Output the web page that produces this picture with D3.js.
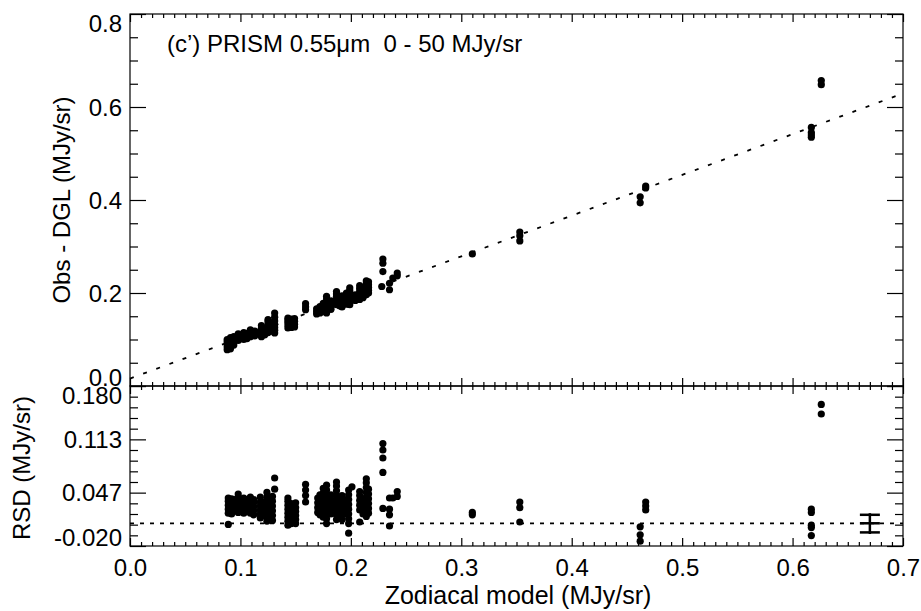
<!DOCTYPE html>
<html>
<head>
<meta charset="utf-8">
<script src="https://cdn.jsdelivr.net/npm/d3@7"></script>
<style>
  body { margin: 0; background: white; }
  text { font-family: "Liberation Sans", Arial, Helvetica, sans-serif; fill: black; }
</style>
</head>
<body>
<div id="container"></div>
<script>
let w = 921;
let h = 611;

// ---- data ----
// top panel: [zodiacal model, [obs - DGL values]]
let topCols = [
  [0.088, [0.078, 0.084, 0.090, 0.095, 0.100]],
  [0.091, [0.080, 0.086, 0.092, 0.098, 0.104]],
  [0.094, [0.088, 0.094, 0.100, 0.106]],
  [0.098, [0.098, 0.103, 0.108, 0.112]],
  [0.103, [0.100, 0.105, 0.110, 0.115]],
  [0.106, [0.102, 0.108, 0.113]],
  [0.109, [0.106, 0.111, 0.116, 0.121]],
  [0.113, [0.108, 0.113, 0.118]],
  [0.119, [0.106, 0.112, 0.118, 0.124, 0.130]],
  [0.122, [0.110, 0.116, 0.122]],
  [0.125, [0.115, 0.121, 0.127, 0.133, 0.139, 0.143]],
  [0.128, [0.118, 0.124, 0.130, 0.136]],
  [0.131, [0.114, 0.120, 0.126, 0.132, 0.140, 0.148, 0.157]],
  [0.143, [0.125, 0.131, 0.137, 0.142, 0.146]],
  [0.146, [0.126, 0.132, 0.138, 0.144]],
  [0.149, [0.127, 0.133, 0.139, 0.145]],
  [0.159, [0.164, 0.170, 0.177]],
  [0.169, [0.155, 0.160, 0.166]],
  [0.172, [0.157, 0.162, 0.167, 0.171]],
  [0.175, [0.160, 0.166, 0.172, 0.178]],
  [0.178, [0.157, 0.163, 0.169, 0.175, 0.181, 0.187, 0.193]],
  [0.182, [0.165, 0.171, 0.177, 0.183]],
  [0.187, [0.175, 0.181, 0.187, 0.193, 0.198, 0.203]],
  [0.190, [0.172, 0.178, 0.184, 0.190]],
  [0.192, [0.170, 0.176, 0.182, 0.188, 0.194]],
  [0.196, [0.176, 0.182, 0.188, 0.194, 0.200]],
  [0.199, [0.175, 0.181, 0.187, 0.193, 0.199, 0.205, 0.211]],
  [0.204, [0.184, 0.190, 0.196]],
  [0.208, [0.186, 0.192, 0.198, 0.204, 0.210, 0.216]],
  [0.211, [0.190, 0.196, 0.202, 0.208]],
  [0.214, [0.196, 0.202, 0.208, 0.214, 0.220, 0.226]],
  [0.216, [0.200, 0.206, 0.212, 0.218, 0.224]],
  [0.228, [0.214]],
  [0.229, [0.246, 0.264, 0.273]],
  [0.235, [0.207, 0.221]],
  [0.238, [0.232]],
  [0.242, [0.237, 0.243]],
  [0.310, [0.284]],
  [0.353, [0.312, 0.323, 0.331]],
  [0.462, [0.394, 0.407]],
  [0.467, [0.426, 0.430]],
  [0.617, [0.535, 0.540, 0.545, 0.556]],
  [0.626, [0.648, 0.657]]
];

// bottom panel: [zodiacal model, [RSD values]]
let rsdCols = [
  [0.089, [0.007, 0.021, 0.026, 0.031, 0.036, 0.040]],
  [0.092, [0.020, 0.025, 0.030, 0.035, 0.039]],
  [0.095, [0.024, 0.029, 0.034, 0.038]],
  [0.098, [0.022, 0.027, 0.032, 0.037, 0.041, 0.045]],
  [0.103, [0.021, 0.026, 0.031, 0.036, 0.040]],
  [0.106, [0.024, 0.029, 0.034, 0.038]],
  [0.109, [0.021, 0.026, 0.031, 0.036, 0.041]],
  [0.112, [0.019, 0.024, 0.029, 0.034, 0.038]],
  [0.118, [0.015, 0.020, 0.025, 0.030, 0.035, 0.041]],
  [0.121, [0.018, 0.024, 0.030, 0.035]],
  [0.124, [0.011, 0.017, 0.023, 0.029, 0.035, 0.041, 0.047]],
  [0.127, [0.014, 0.020, 0.026, 0.032, 0.038]],
  [0.129, [0.012, 0.018, 0.024, 0.030, 0.036, 0.042]],
  [0.131, [0.051, 0.065]],
  [0.143, [0.006, 0.011, 0.016, 0.021, 0.026, 0.031, 0.036, 0.040]],
  [0.146, [0.008, 0.013, 0.018, 0.023, 0.028, 0.033]],
  [0.150, [0.008, 0.013, 0.018, 0.023, 0.028, 0.034]],
  [0.159, [0.035, 0.043, 0.050, 0.057]],
  [0.170, [0.022, 0.028, 0.034, 0.040]],
  [0.172, [0.019, 0.025, 0.031, 0.037, 0.044]],
  [0.175, [0.016, 0.022, 0.028, 0.034, 0.040, 0.046, 0.052]],
  [0.178, [0.008, 0.014, 0.020, 0.026, 0.032, 0.038, 0.044, 0.050, 0.056]],
  [0.182, [0.020, 0.026, 0.032, 0.038, 0.044]],
  [0.187, [0.013, 0.019, 0.025, 0.031, 0.037, 0.043, 0.049, 0.055, 0.060]],
  [0.190, [0.016, 0.022, 0.028, 0.034, 0.040]],
  [0.192, [0.013, 0.019, 0.025, 0.031, 0.037, 0.043]],
  [0.196, [0.020, 0.026, 0.032, 0.038]],
  [0.198, [-0.004, 0.008, 0.014, 0.020, 0.026, 0.032, 0.038, 0.044, 0.050]],
  [0.201, [0.054]],
  [0.208, [0.010, 0.025, 0.031, 0.037, 0.043, 0.048]],
  [0.211, [0.020, 0.026, 0.032, 0.038]],
  [0.214, [0.017, 0.023, 0.029, 0.035, 0.041, 0.047, 0.053, 0.059, 0.064]],
  [0.216, [0.021, 0.027, 0.033, 0.039, 0.045, 0.051]],
  [0.229, [0.027, 0.072, 0.090, 0.100, 0.108]],
  [0.235, [0.005, 0.019, 0.026, 0.040]],
  [0.238, [0.040]],
  [0.242, [0.042, 0.048]],
  [0.310, [0.019, 0.022]],
  [0.353, [0.010, 0.028, 0.035]],
  [0.462, [-0.014, -0.006, 0.004]],
  [0.467, [0.025, 0.030, 0.035]],
  [0.617, [-0.007, 0.003, 0.006, 0.022, 0.026]],
  [0.626, [0.145, 0.157]]
];

let fitA = 0.016;   // dotted fit line in top panel: y = fitA + fitB * x
let fitB = 0.876;
let rsdLevel = 0.0084; // dotted line in bottom panel

let errX = 0.67;                    // typical error symbol
let errCaps = [-0.003, 0.0084, 0.019];
let errSpan = [-0.005, 0.021];

let xTicks = [0, 0.1, 0.2, 0.3, 0.4, 0.5, 0.6, 0.7];
let xLabels = ["0.0", "0.1", "0.2", "0.3", "0.4", "0.5", "0.6", "0.7"];
let topTicks = [0, 0.2, 0.4, 0.6, 0.8];
let topLabels = ["0.0", "0.2", "0.4", "0.6", "0.8"];
let rsdTicks = [-0.020, 0.0467, 0.1133, 0.180];
let rsdLabels = ["-0.020", "0.047", "0.113", "0.180"];

let title = "(c\u2019) PRISM 0.55\u03bcm  0 - 50 MJy/sr";

// ---- layout ----
let left = 130, right = 903;
let topY0 = 14, topY1 = 386, botY0 = 386, botY1 = 546;

let x = d3.scaleLinear().domain([0, 0.7]).range([left, right]);
let yTop = d3.scaleLinear().domain([0, 0.8]).range([topY1, topY0]);
let yBot = d3.scaleLinear().domain([-0.02, 0.18]).range([botY1, botY0]);

let viz = d3.select("#container")
  .append("svg")
    .attr("width", w)
    .attr("height", h)
    .style("background-color", "white");

let fs = 24;

function flat(cols) {
  let out = [];
  cols.forEach(c => c[1].forEach(v => out.push([c[0], v])));
  return out;
}

// frames
[[topY0, topY1], [botY0, botY1]].forEach(p => {
  viz.append("rect")
    .attr("x", left).attr("y", p[0])
    .attr("width", right - left).attr("height", p[1] - p[0])
    .attr("fill", "none").attr("stroke", "black").attr("stroke-width", 1.2);
});

let xMinor = d3.range(0, 71).map(i => i / 100).filter(v => Math.round(v * 100) % 10 != 0);

function tickAxis(axis, tr) {
  let g = viz.append("g").attr("transform", tr).call(axis);
  g.select(".domain").remove();
  g.selectAll("line").attr("stroke", "black").attr("stroke-width", 1.2);
  return g;
}

// x ticks on all four horizontal edges
[[topY0, d3.axisTop], [topY1, d3.axisBottom], [botY0, d3.axisTop], [botY1, d3.axisBottom]].forEach(e => {
  tickAxis(e[1](x).tickValues(xMinor).tickSize(-4).tickFormat(""), "translate(0," + e[0] + ")");
  tickAxis(e[1](x).tickValues(xTicks).tickSize(-8).tickFormat(""), "translate(0," + e[0] + ")");
});

// x labels
let xl = tickAxis(d3.axisBottom(x).tickValues(xTicks).tickSize(0).tickPadding(13)
  .tickFormat((d, i) => xLabels[i]), "translate(0," + botY1 + ")");
xl.selectAll("text").attr("font-size", fs).attr("font-family", null);

// y ticks
let topMinor = d3.range(0, 17).map(i => i * 0.05).filter((v, i) => i % 4 != 0);
let rsdMinor = d3.range(0, 16).map(i => -0.02 + i * 0.2 / 15).filter((v, i) => i % 5 != 0);
[[yTop, topMinor, topTicks], [yBot, rsdMinor, rsdTicks]].forEach(p => {
  tickAxis(d3.axisLeft(p[0]).tickValues(p[1]).tickSize(-8).tickFormat(""), "translate(" + left + ",0)");
  tickAxis(d3.axisLeft(p[0]).tickValues(p[2]).tickSize(-16).tickFormat(""), "translate(" + left + ",0)");
  tickAxis(d3.axisRight(p[0]).tickValues(p[1]).tickSize(-8).tickFormat(""), "translate(" + right + ",0)");
  tickAxis(d3.axisRight(p[0]).tickValues(p[2]).tickSize(-16).tickFormat(""), "translate(" + right + ",0)");
});

// y labels (end labels kept inside the panel)
function yLabels(scale, ticks, labels, y0, y1) {
  viz.append("g").selectAll("text")
    .data(ticks)
    .enter()
    .append("text")
      .attr("x", 122)
      .attr("y", d => Math.min(Math.max(scale(d), y0 + 9), y1 - 9))
      .attr("dy", "0.36em")
      .attr("text-anchor", "end")
      .attr("font-size", fs)
      .text((d, i) => labels[i]);
}
yLabels(yTop, topTicks, topLabels, topY0, topY1);
yLabels(yBot, rsdTicks, rsdLabels, botY0, botY1);

// fit lines
viz.append("line")
  .attr("x1", x(0)).attr("y1", yTop(fitA))
  .attr("x2", x(0.7)).attr("y2", yTop(fitA + fitB * 0.7))
  .attr("stroke", "black").attr("stroke-width", 1.8).attr("stroke-dasharray", "4,10");
viz.append("line")
  .attr("x1", x(0)).attr("y1", yBot(rsdLevel))
  .attr("x2", x(0.7)).attr("y2", yBot(rsdLevel))
  .attr("stroke", "black").attr("stroke-width", 1.8).attr("stroke-dasharray", "4,6");

// points
viz.append("g").selectAll("circle")
  .data(flat(topCols))
  .enter()
  .append("circle")
    .attr("cx", d => x(d[0]))
    .attr("cy", d => yTop(d[1]))
    .attr("r", 3.6)
    .attr("fill", "black");

viz.append("g").selectAll("circle")
  .data(flat(rsdCols))
  .enter()
  .append("circle")
    .attr("cx", d => x(d[0]))
    .attr("cy", d => yBot(d[1]))
    .attr("r", 3.6)
    .attr("fill", "black");

// error symbol
let eg = viz.append("g").attr("stroke", "black").attr("stroke-width", 2.5);
eg.append("line")
  .attr("x1", x(errX)).attr("x2", x(errX))
  .attr("y1", yBot(errSpan[0])).attr("y2", yBot(errSpan[1]));
eg.selectAll("line.cap")
  .data(errCaps)
  .enter()
  .append("line")
    .attr("class", "cap")
    .attr("x1", x(errX) - 10).attr("x2", x(errX) + 10)
    .attr("y1", d => yBot(d)).attr("y2", d => yBot(d));

// texts
viz.append("text")
  .attr("x", 167).attr("y", 52)
  .attr("font-size", fs)
  .style("white-space", "pre")
  .text(title);

viz.append("text")
  .attr("transform", "translate(70,200) rotate(-90)")
  .attr("text-anchor", "middle")
  .attr("font-size", fs)
  .text("Obs - DGL (MJy/sr)");

viz.append("text")
  .attr("transform", "translate(30,468) rotate(-90)")
  .attr("text-anchor", "middle")
  .attr("font-size", fs)
  .text("RSD (MJy/sr)");

viz.append("text")
  .attr("x", 518).attr("y", 604)
  .attr("text-anchor", "middle")
  .attr("font-size", 25)
  .text("Zodiacal model (MJy/sr)");
</script>
</body>
</html>
